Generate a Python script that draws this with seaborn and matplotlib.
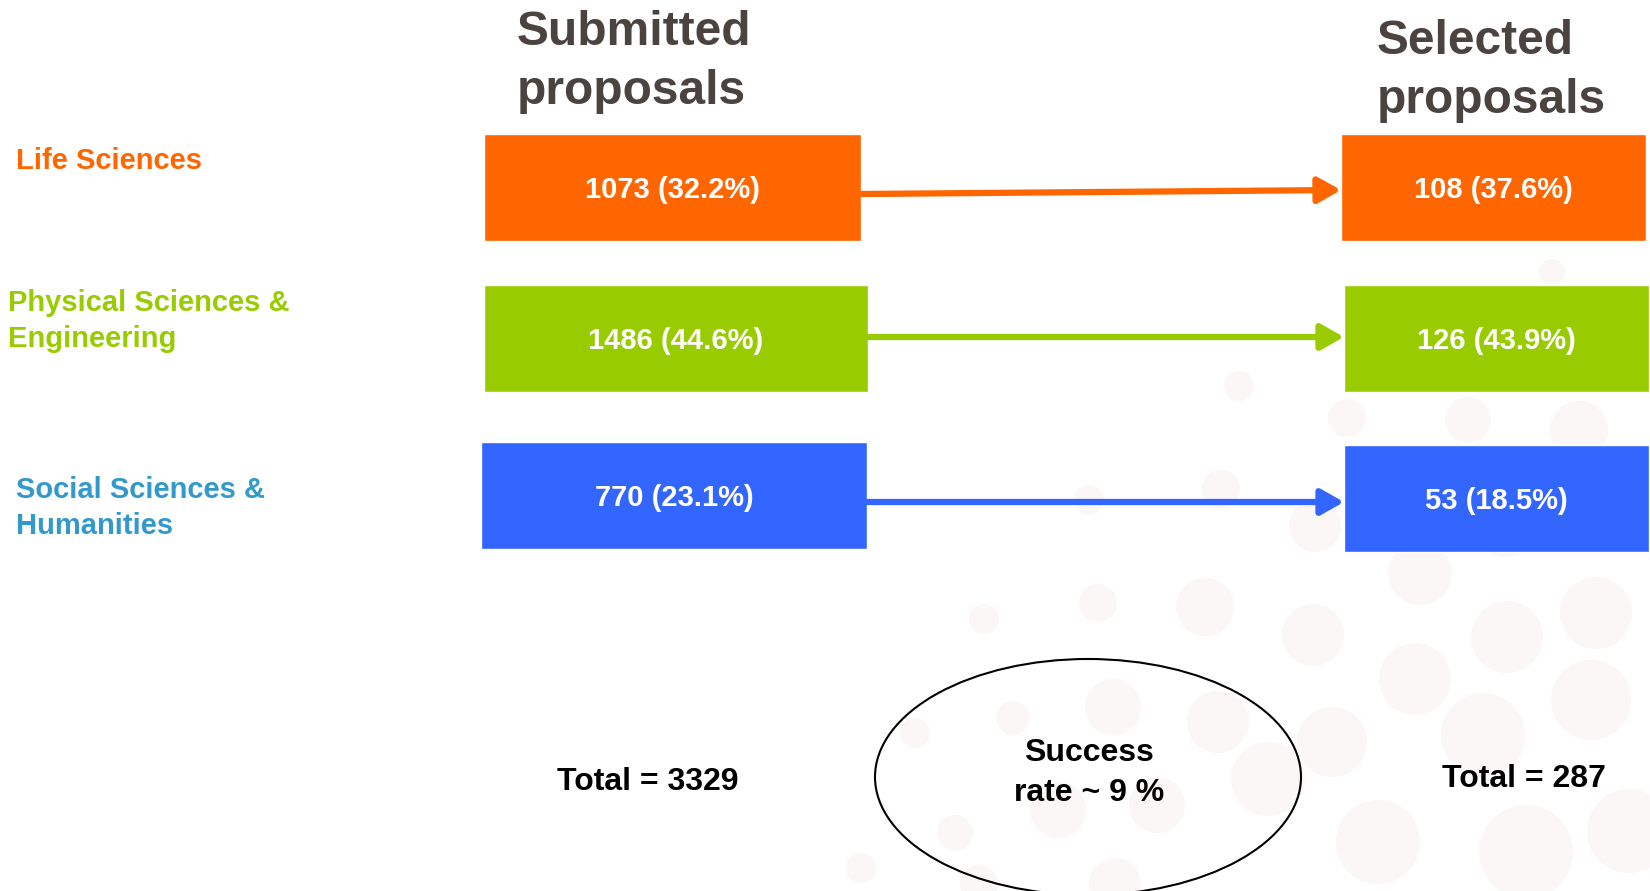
import matplotlib
matplotlib.use("Agg")
import matplotlib.pyplot as plt
from matplotlib.patches import Ellipse, Circle
import seaborn as sns

# ------------------------------------------------------------
# Data
# ------------------------------------------------------------
categories = ["Life Sciences", "Physical Sciences &\nEngineering",
              "Social Sciences &\nHumanities"]
submitted = [1073, 1486, 770]
selected = [108, 126, 53]
box_colors = ["#FF6600", "#99CC00", "#3366FF"]
label_colors = ["#FF6600", "#99CC00", "#3399CC"]

total_sub = sum(submitted)
total_sel = sum(selected)
success_rate = round(100 * total_sel / total_sub)

# ------------------------------------------------------------
# Layout (pixel canvas 1650 x 891)
# ------------------------------------------------------------
W, H = 1650, 891
left_rows = [187, 338, 495]
right_rows = [187, 338, 498]
left_x = [(484, 861), (484, 868), (481, 867)]
right_x = [(1341, 1646), (1344, 1649), (1344, 1649)]
box_h = 107
label_rows = [161, 321, 508]
label_x = [16, 8, 16]
arrow_y = [(194, 190), (337, 337), (502, 502)]

# faint decorative dots in the background (x, y, r)
dots = [(1552, 272, 13), (1239, 386, 15), (1347, 418, 19), (1468, 420, 23),
        (1579, 430, 29), (1089, 500, 15), (1221, 489, 19), (1315, 526, 26),
        (1505, 526, 31), (1420, 573, 32), (984, 619, 15), (1098, 603, 19),
        (1205, 607, 29), (1313, 635, 31), (1415, 679, 36), (1507, 637, 36),
        (1596, 613, 36), (915, 733, 15), (1013, 718, 17), (1113, 707, 28),
        (1218, 722, 31), (1332, 742, 35), (1483, 735, 42), (1591, 700, 40),
        (955, 833, 18), (1058, 810, 28), (1157, 805, 28), (1268, 779, 37),
        (1378, 842, 42), (1526, 852, 47), (1629, 831, 42), (861, 868, 15),
        (979, 884, 19), (1115, 884, 26)]

sns.set_theme(style="white")
plt.rcParams["font.family"] = ["Liberation Sans", "DejaVu Sans"]

fig = plt.figure(figsize=(16.5, 8.91), dpi=100)
ax = fig.add_axes([0, 0, 1, 1])
ax.set_xlim(0, W)
ax.set_ylim(H, 0)
ax.axis("off")

for x, y, r in dots:
    ax.add_patch(Circle((x, y), r, facecolor="#FAF7F6", edgecolor="none",
                        zorder=0))

# column titles
ax.text(517, 62, "Submitted\nproposals", fontsize=34.5, fontweight="bold",
        color="#4A4340", ha="left", va="center", linespacing=1.38)
ax.text(1377, 71, "Selected\nproposals", fontsize=34.5, fontweight="bold",
        color="#4A4340", ha="left", va="center", linespacing=1.38)

for i, cat in enumerate(categories):
    # category label
    ax.text(label_x[i], label_rows[i], cat, fontsize=21, fontweight="bold",
            color=label_colors[i], ha="left", va="center", linespacing=1.4)

    # submitted box
    x0, x1 = left_x[i]
    ax.barh(left_rows[i], x1 - x0, left=x0, height=box_h,
            color=box_colors[i], zorder=2)
    pct = 100 * submitted[i] / total_sub
    ax.text((x0 + x1) / 2, left_rows[i] + 3, f"{submitted[i]} ({pct:.1f}%)",
            fontsize=21, fontweight="bold", color="white",
            ha="center", va="center", zorder=3)

    # selected box
    r0, r1 = right_x[i]
    ax.barh(right_rows[i], r1 - r0, left=r0, height=box_h,
            color=box_colors[i], zorder=2)
    pct = 100 * selected[i] / total_sel
    ax.text((r0 + r1) / 2, right_rows[i] + 3, f"{selected[i]} ({pct:.1f}%)",
            fontsize=21, fontweight="bold", color="white",
            ha="center", va="center", zorder=3)

    # arrow between boxes
    ya, yb = arrow_y[i]
    ax.annotate("", xy=(r0, yb), xytext=(x1, ya),
                arrowprops=dict(arrowstyle="-|>,head_length=1.15,head_width=0.65",
                                color=box_colors[i], lw=4.5,
                                shrinkA=0, shrinkB=0),
                zorder=3)

# totals and success rate
ax.text(648, 782, f"Total = {total_sub}", fontsize=23, fontweight="bold",
        color="black", ha="center", va="center")
ax.text(1524, 779, f"Total = {total_sel}", fontsize=23, fontweight="bold",
        color="black", ha="center", va="center")
ax.add_patch(Ellipse((1088, 777), 426, 236, facecolor="none",
                     edgecolor="black", lw=1.5, zorder=3))
ax.text(1089, 773, f"Success\nrate ~ {success_rate} %", fontsize=23,
        fontweight="bold", color="black", ha="center", va="center",
        linespacing=1.42, zorder=4)

fig.savefig("out.png", dpi=100)
